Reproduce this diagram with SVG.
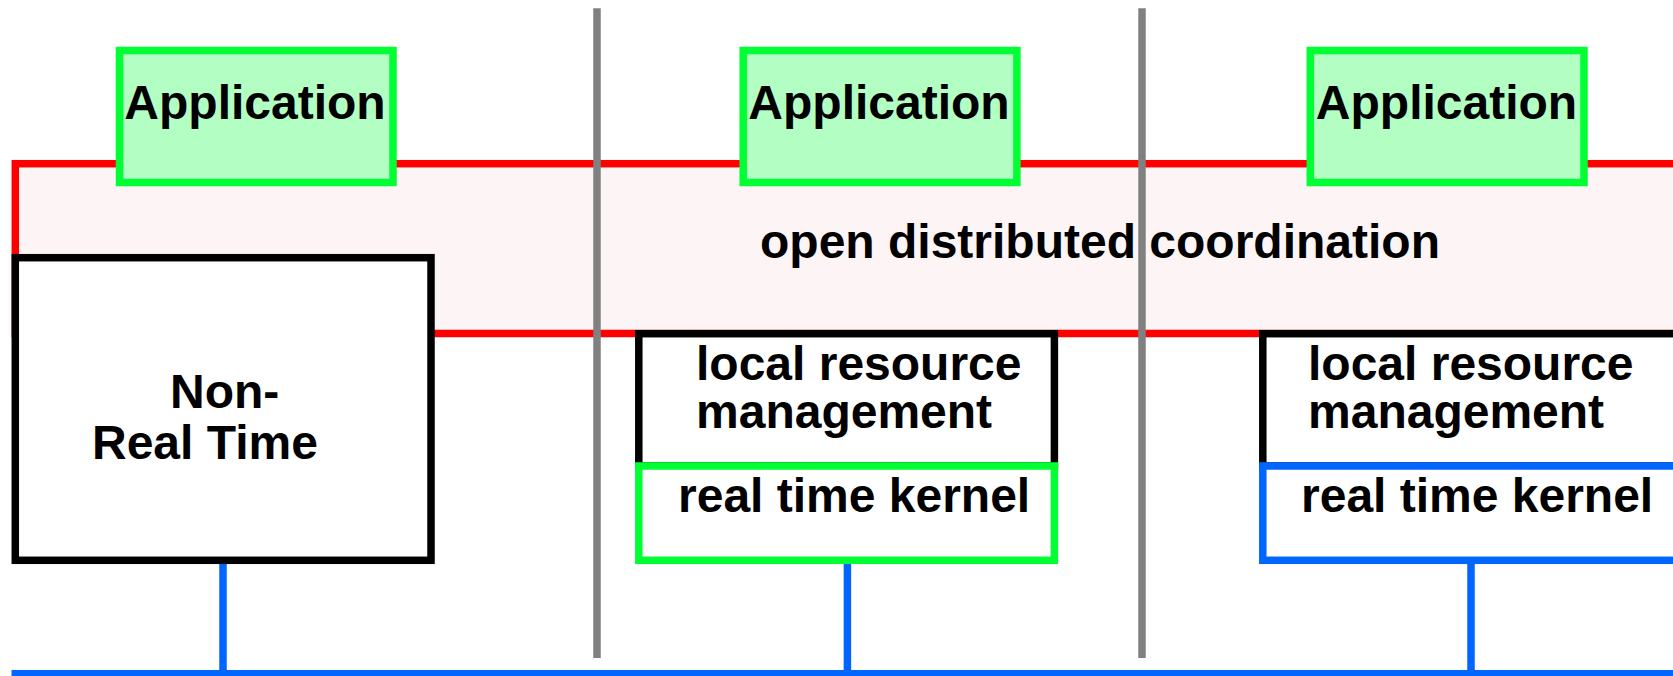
<svg xmlns="http://www.w3.org/2000/svg" width="1673" height="676" viewBox="0 0 1673 676">
<style>
  .t { font-family: "Liberation Sans", Arial, sans-serif; font-weight: bold; font-size: 48px; fill: #000; }
  .app { fill: #b3ffc3; stroke: #00ff33; stroke-width: 7.5; }
  .blk { fill: #ffffff; stroke: #000000; stroke-width: 7.5; }
  .grn { fill: #ffffff; stroke: #00ff33; stroke-width: 7.5; }
  .blu { fill: #ffffff; stroke: #0066ff; stroke-width: 7.5; }
  .sep { stroke: #808080; stroke-width: 7.5; fill: none; }
  .wire { stroke: #0066ff; stroke-width: 7.5; fill: none; }
</style>
<rect width="1673" height="676" fill="#ffffff"/>
<g id="coordination">
  <rect x="15.3" y="163.7" width="1700" height="169.8" fill="#fdf5f5" stroke="#ff0000" stroke-width="7.5"/>
</g>
<g id="separators">
  <line class="sep" x1="597" y1="8.3" x2="597" y2="658"/>
  <line class="sep" x1="1142" y1="8.3" x2="1142" y2="658"/>
</g>
<text class="t" x="1100" y="258.3" text-anchor="middle">open distributed coordination</text>
<g id="connectors">
  <line class="wire" x1="11.5" y1="673.7" x2="1680" y2="673.7"/>
  <line class="wire" x1="223" y1="560" x2="223" y2="673"/>
  <line class="wire" x1="847.4" y1="560" x2="847.4" y2="673"/>
  <line class="wire" x1="1471" y1="560" x2="1471" y2="673"/>
</g>
<g id="app1">
  <rect class="app" x="119.5" y="50.5" width="273.5" height="132"/>
  <text class="t" x="255" y="119.3" text-anchor="middle">Application</text>
</g>
<g id="app2">
  <rect class="app" x="743.2" y="50.5" width="273.7" height="132"/>
  <text class="t" x="879" y="119.3" text-anchor="middle">Application</text>
</g>
<g id="app3">
  <rect class="app" x="1310.3" y="50.5" width="273.7" height="132"/>
  <text class="t" x="1446.5" y="119.3" text-anchor="middle">Application</text>
</g>
<g id="nonrealtime">
  <rect class="blk" x="15.3" y="257.7" width="415.7" height="302.6"/>
  <text class="t" x="170" y="407.7">Non-</text>
  <text class="t" x="92" y="459.3">Real Time</text>
</g>
<g id="lrm2">
  <rect class="blk" x="638.8" y="333.7" width="415.6" height="132.3"/>
  <text class="t" x="696" y="380">local resource</text>
  <text class="t" x="696" y="428.3">management</text>
</g>
<g id="rtk2">
  <rect class="grn" x="638.8" y="466" width="415.6" height="94.3"/>
  <text class="t" x="678" y="511.7">real time kernel</text>
</g>
<g id="lrm3">
  <rect class="blk" x="1262.8" y="333.7" width="450" height="132.3"/>
  <text class="t" x="1308" y="380">local resource</text>
  <text class="t" x="1308" y="428.3">management</text>
</g>
<g id="rtk3">
  <rect class="blu" x="1262.8" y="466" width="450" height="94.3"/>
  <text class="t" x="1301" y="511.7">real time kernel</text>
</g>
</svg>
